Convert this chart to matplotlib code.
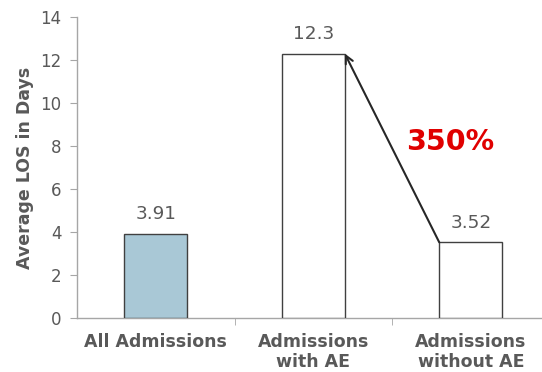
import matplotlib
matplotlib.use("Agg")
import matplotlib.pyplot as plt
import numpy as np

plt.rcParams["font.family"] = ["DejaVu Sans"]

categories = ["All Admissions", "Admissions\nwith AE", "Admissions\nwithout AE"]
values = [3.91, 12.3, 3.52]
value_labels = ["3.91", "12.3", "3.52"]
fills = ["#a9c8d6", "#ffffff", "#ffffff"]
yticks = [0, 2, 4, 6, 8, 10, 12, 14]
pct_label = "350%"

gray = "#595959"
axis_gray = "#a6a6a6"

fig = plt.figure(figsize=(5.42, 3.72), dpi=100)
ax = fig.add_axes([77/542, 54/372, (549.5-77)/542, (318-17)/372])

x = np.arange(len(categories))
bw = 0.4
bars = ax.bar(x, values, width=bw, color=fills, edgecolor="#404040", linewidth=1.0, zorder=3)

for xi, v, lab in zip(x, values, value_labels):
    ax.text(xi, v + 0.5, lab, ha="center", va="bottom", fontsize=13.3, color=gray)

ax.set_xlim(-0.5, 2.5)
ax.set_ylim(0, 14)
ax.set_yticks(yticks)
ax.set_yticklabels([str(t) for t in yticks], fontsize=12, color=gray)

ax.set_xticks(x)
ax.set_xticklabels(categories, fontsize=12.5, fontweight="bold", color=gray, linespacing=1.15)
ax.tick_params(axis="x", length=0, pad=11)
ax.set_xticks([0.5, 1.5, 2.5], minor=True)
ax.tick_params(axis="x", which="minor", length=5, color=axis_gray, direction="out")
ax.tick_params(axis="y", length=5, color=axis_gray, direction="out", pad=6)

for s in ["top", "right"]:
    ax.spines[s].set_visible(False)
for s in ["left", "bottom"]:
    ax.spines[s].set_color(axis_gray)
    ax.spines[s].set_linewidth(1.0)

ax.set_ylabel("Average LOS in Days", fontsize=12.5, fontweight="bold", color=gray, labelpad=5)

# arrow from top-left of bar 3 to top-right of bar 2
ax.annotate("", xy=(x[1] + bw/2, values[1]), xytext=(x[2] - bw/2, values[2]),
            arrowprops=dict(arrowstyle="->", color="#262626", lw=1.5, shrinkA=0, shrinkB=0,
                            mutation_scale=14), zorder=5)
ax.text(1.87, 8.2, pct_label, ha="center", va="center", fontsize=20.5, fontweight="bold", color="#e00000")

fig.savefig("out.png", dpi=100)
